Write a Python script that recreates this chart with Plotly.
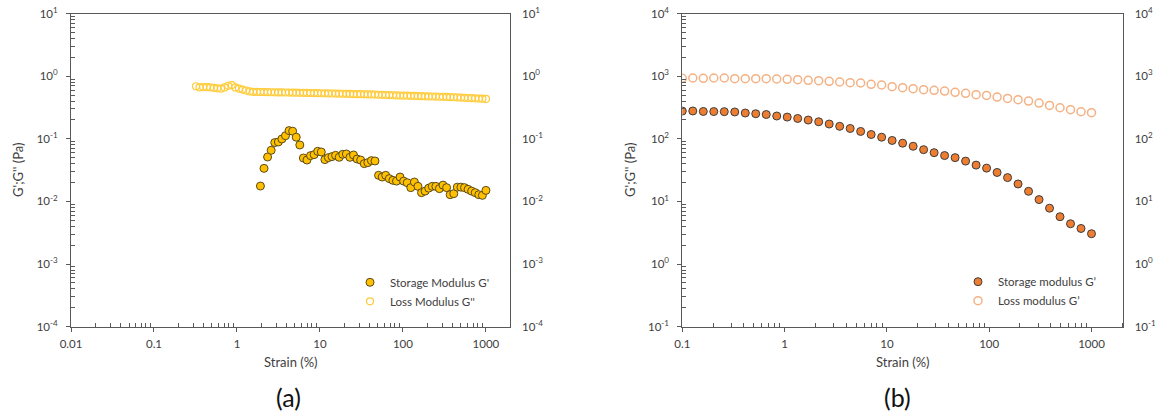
import plotly.graph_objects as go

# ---------------- Panel (a) data ----------------
strain_a = [0.321, 0.354, 0.391, 0.432, 0.477, 0.527, 0.582, 0.643, 0.710, 0.784,
            0.866, 0.956, 1.056, 1.166, 1.288, 1.423, 1.571, 1.735, 1.917, 2.117,
            2.338, 2.582, 2.852, 3.150, 3.478, 3.842, 4.243, 4.686, 5.175, 5.715,
            6.312, 6.971, 7.699, 8.502, 9.393, 10.37, 11.46, 12.65, 13.97, 15.43,
            17.04, 18.82, 20.79, 22.96, 25.36, 28.01, 30.94, 34.17, 37.73, 41.68,
            46.03, 50.83, 56.15, 62.01, 68.49, 75.64, 83.53, 92.26, 101.9, 112.5,
            124.3, 137.3, 151.6, 167.4, 184.9, 204.2, 225.5, 249.1, 275.1, 303.9,
            335.6, 370.6, 409.4, 452.1, 499.3, 551.4, 609.0, 672.6, 742.9, 820.5,
            906.1, 1000.0]

loss_a = [0.69, 0.66, 0.67, 0.67, 0.66, 0.65, 0.64, 0.63, 0.66, 0.70,
          0.72, 0.66, 0.63, 0.61, 0.59, 0.570, 0.562, 0.560, 0.558, 0.556,
          0.555, 0.553, 0.552, 0.550, 0.550, 0.548, 0.547, 0.545, 0.544, 0.542,
          0.541, 0.540, 0.538, 0.536, 0.535, 0.533, 0.532, 0.530, 0.528, 0.527,
          0.525, 0.523, 0.522, 0.520, 0.518, 0.516, 0.515, 0.513, 0.511, 0.510,
          0.508, 0.505, 0.503, 0.500, 0.498, 0.495, 0.493, 0.490, 0.489, 0.487,
          0.485, 0.483, 0.481, 0.479, 0.477, 0.475, 0.473, 0.471, 0.469, 0.467,
          0.465, 0.462, 0.460, 0.457, 0.454, 0.451, 0.448, 0.445, 0.442, 0.439,
          0.436, 0.432]

strain_a_storage = strain_a[18:]
storage_a = [0.0176, 0.0337, 0.0512, 0.0655, 0.0869, 0.0889, 0.0993, 0.112, 0.135, 0.132,
             0.106, 0.0796, 0.0493, 0.0458, 0.0538, 0.0558, 0.0630, 0.0615, 0.0465, 0.0500,
             0.0519, 0.0544, 0.0506, 0.0565, 0.0572, 0.0506, 0.0551, 0.0475, 0.0458, 0.0401,
             0.0416, 0.0448, 0.0442, 0.0261, 0.0245, 0.0261, 0.0231, 0.0217, 0.0211, 0.0245,
             0.0211, 0.0199, 0.0166, 0.0204, 0.0174, 0.0138, 0.0146, 0.0163, 0.0174, 0.0174,
             0.0160, 0.0182, 0.0166, 0.0128, 0.0133, 0.0169, 0.0169, 0.0166, 0.0156, 0.0146,
             0.0138, 0.0128, 0.0125, 0.0150]

# ---------------- Panel (b) data ----------------
strain_b = [0.1, 0.1266, 0.1604, 0.2031, 0.2572, 0.3257, 0.4125, 0.5223, 0.6615, 0.8377,
            1.061, 1.343, 1.701, 2.154, 2.728, 3.455, 4.375, 5.540, 7.016, 8.885,
            11.25, 14.25, 18.05, 22.85, 28.94, 36.65, 46.42, 58.78, 74.44, 94.27,
            119.4, 151.2, 191.5, 242.5, 307.1, 388.9, 492.4, 623.6, 789.7, 1000.0]

storage_b = [277, 278, 273, 272, 271, 268, 258, 251, 244, 231,
             222, 211, 199, 187, 172, 158, 146, 131, 117, 106,
             94, 85, 76, 67, 60, 54, 50, 44, 38, 34,
             29, 24, 19, 14.5, 10.7, 7.8, 5.7, 4.4, 3.7, 3.05]

loss_b = [922, 934, 922, 934, 934, 911, 911, 911, 911, 900,
          889, 879, 857, 847, 827, 806, 787, 777, 740, 722,
          679, 655, 631, 608, 593, 578, 551, 531, 506, 493,
          464, 441, 421, 400, 372, 341, 313, 291, 270, 261]

# tick labels
x_ticks_a = [0.01, 0.1, 1, 10, 100, 1000]
x_ticks_b = [0.1, 1, 10, 100, 1000]
x_text_a = ["0.01", "0.1", "1", "10", "100", "1000"]
x_text_b = ["0.1", "1", "10", "100", "1000"]
y_ticks_a = [1e-4, 1e-3, 1e-2, 1e-1, 1, 10]
y_text_a = ["10<sup>-4</sup>", "10<sup>-3</sup>", "10<sup>-2</sup>", "10<sup>-1</sup>",
            "10<sup>0</sup>", "10<sup>1</sup>"]
y_ticks_b = [1e-1, 1, 10, 100, 1000, 10000]
y_text_b = ["10<sup>-1</sup>", "10<sup>0</sup>", "10<sup>1</sup>", "10<sup>2</sup>",
            "10<sup>3</sup>", "10<sup>4</sup>"]

FONT = "Lato, 'Open Sans', sans-serif"
AX = "#595959"
TXT = "#404040"


def minor_vals(lo, hi):
    return [m * 10 ** e for e in range(lo, hi) for m in range(2, 10)]


fig = go.Figure()

# Panel (a)
fig.add_trace(go.Scatter(
    x=strain_a_storage, y=storage_a, mode="markers", name="Storage Modulus G'",
    xaxis="x", yaxis="y", legend="legend",
    marker=dict(symbol="circle", size=8, color="#FFC000",
                line=dict(color="#5a4a1a", width=1))))
fig.add_trace(go.Scatter(
    x=strain_a, y=loss_a, mode="markers", name="Loss Modulus G''",
    xaxis="x", yaxis="y", legend="legend",
    marker=dict(symbol="circle-open", size=7, color="#FFCB3A",
                line=dict(color="#FFCB3A", width=1.2))))

# Panel (b)
fig.add_trace(go.Scatter(
    x=strain_b, y=storage_b, mode="markers", name="Storage modulus G\u2019",
    xaxis="x2", yaxis="y2", legend="legend2",
    marker=dict(symbol="circle", size=8, color="#ED7D31",
                line=dict(color="#3d3d3d", width=1))))
fig.add_trace(go.Scatter(
    x=strain_b, y=loss_b, mode="markers", name="Loss modulus G\u2019",
    xaxis="x2", yaxis="y2", legend="legend2",
    marker=dict(symbol="circle-open", size=8, color="#F4B183",
                line=dict(color="#F4B183", width=1.5))))

# empty traces so the right-hand label axes render
fig.add_trace(go.Scatter(x=[], y=[], xaxis="x", yaxis="y3", showlegend=False))
fig.add_trace(go.Scatter(x=[], y=[], xaxis="x2", yaxis="y4", showlegend=False))

W, H = 1155, 414
ya_dom = [(H - 326.7) / H, (H - 13.5) / H]


def xaxis(dom, rng, tv, tt, lo, hi, anchor):
    return dict(type="log", domain=dom, range=rng, anchor=anchor, automargin=False,
                tickmode="array", tickvals=tv,
                ticktext=tt, ticks="outside", ticklen=4, tickcolor=AX, tickwidth=1,
                showline=True, linecolor=AX, linewidth=1, mirror=True, showgrid=False,
                zeroline=False, ticklabelstandoff=2,
                tickfont=dict(size=11.5, color=TXT, family=FONT),
                minor=dict(tickmode="array", tickvals=minor_vals(lo, hi), ticks="inside",
                           ticklen=4, tickcolor=AX, tickwidth=1, showgrid=False))


def yaxis(rng, tv, tt, anchor, lo, hi):
    return dict(type="log", domain=ya_dom, range=rng, anchor=anchor, automargin=False,
                tickmode="array",
                tickvals=tv, ticktext=tt, ticks="outside", ticklen=4, tickcolor=AX,
                tickwidth=1, showline=True, linecolor=AX, linewidth=1, mirror=True,
                showgrid=False, zeroline=False, ticklabelstandoff=6,
                tickfont=dict(size=11.5, color=TXT, family=FONT),
                minor=dict(tickmode="array", tickvals=minor_vals(lo, hi), ticks="inside",
                           ticklen=4, tickcolor=AX, tickwidth=1, showgrid=False))


def yright(rng, tv, tt, over, anchor):
    return dict(type="log", domain=ya_dom, range=rng, overlaying=over, side="right",
                anchor=anchor, automargin=False,
                tickmode="array", tickvals=tv, ticktext=tt, ticks="", showline=False,
                showgrid=False, zeroline=False, ticklabelstandoff=11,
                tickfont=dict(size=11.5, color=TXT, family=FONT))


def note(text, x, y, size=13, angle=0, color=TXT):
    return dict(text=text, x=x / W, y=(H - y) / H, xref="paper", yref="paper",
                xanchor="center", yanchor="middle", textangle=angle, showarrow=False,
                font=dict(size=size, color=color, family=FONT))


fig.update_layout(
    width=W, height=H, margin=dict(l=0, r=0, t=0, b=0, autoexpand=False),
    paper_bgcolor="white", plot_bgcolor="white",
    font=dict(family=FONT, color=TXT, size=11),
    xaxis=xaxis([71 / W, 510 / W], [-2, 3.29], x_ticks_a, x_text_a, -2, 4, "y"),
    yaxis=yaxis([-4, 1], y_ticks_a, y_text_a, "x", -4, 1),
    xaxis2=xaxis([682.3 / W, 1122.7 / W], [-1, 3.305], x_ticks_b, x_text_b, -1, 4, "y2"),
    yaxis2=yaxis([-1, 4], y_ticks_b, y_text_b, "x2", -1, 4),
    yaxis3=yright([-4, 1], y_ticks_a, y_text_a, "y", "x"),
    yaxis4=yright([-1, 4], y_ticks_b, y_text_b, "y2", "x2"),
    legend=dict(x=350 / W, y=(H - 291.8) / H, xanchor="left", yanchor="middle",
                bgcolor="rgba(0,0,0,0)", font=dict(size=11.5, color=TXT, family=FONT),
                tracegroupgap=0),
    legend2=dict(x=958 / W, y=(H - 291.2) / H, xanchor="left", yanchor="middle",
                 bgcolor="rgba(0,0,0,0)", font=dict(size=11.5, color=TXT, family=FONT),
                 tracegroupgap=0),
    annotations=[
        note("G';G'' (Pa)", 18, 170, angle=-90),
        note("G';G'' (Pa)", 630, 170, angle=-90),
        note("Strain (%)", 290.5, 362),
        note("Strain (%)", 902.5, 362),
        note("(a)", 288, 397, size=25, color="#111111"),
        note("(b)", 897, 397, size=25, color="#111111"),
    ],
)

fig.write_html("out.html", config={"displayModeBar": False},
               post_script="document.body.style.margin='0';document.body.style.overflow='hidden';")
